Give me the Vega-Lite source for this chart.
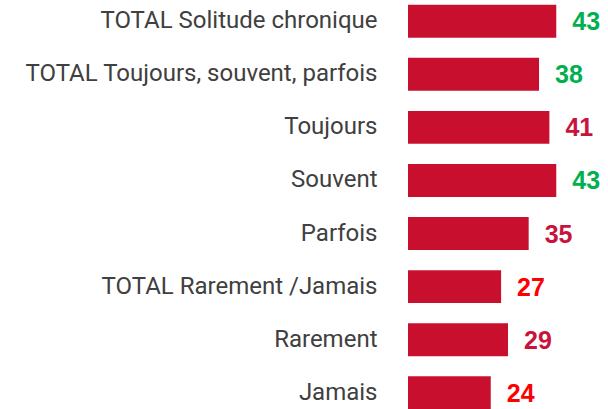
{
  "$schema": "https://vega.github.io/schema/vega-lite/v6.json",
  "width": 200,
  "height": 414,
  "autosize": "none",
  "padding": {"left": 408, "top": 0, "right": 0, "bottom": 0},
  "background": "white",
  "config": {"view": {"stroke": null}},
  "data": {
    "values": [
      {"label": "TOTAL Solitude chronique", "value": 43, "tcol": "green"},
      {"label": "TOTAL Toujours, souvent, parfois", "value": 38, "tcol": "green"},
      {"label": "Toujours", "value": 41, "tcol": "crimson"},
      {"label": "Souvent", "value": 43, "tcol": "green"},
      {"label": "Parfois", "value": 35, "tcol": "crimson"},
      {"label": "TOTAL Rarement /Jamais", "value": 27, "tcol": "red"},
      {"label": "Rarement", "value": 29, "tcol": "crimson"},
      {"label": "Jamais", "value": 24, "tcol": "red"}
    ]
  },
  "encoding": {
    "y": {
      "field": "label",
      "type": "nominal",
      "sort": null,
      "scale": {"paddingInner": 0.38, "paddingOuter": 0.09},
      "axis": {
        "title": null,
        "domain": false,
        "ticks": false,
        "labelPadding": 31,
        "labelFontSize": 24,
        "labelFont": "Roboto",
        "labelColor": "#404040",
        "labelLimit": 500
      }
    },
    "x": {
      "field": "value",
      "type": "quantitative",
      "scale": {"domain": [0, 58]},
      "axis": null
    }
  },
  "layer": [
    {"mark": {"type": "bar", "color": "#C8102E"}},
    {
      "mark": {"type": "text", "align": "left", "baseline": "middle", "dx": 16, "dy": 1, "font": "Liberation Sans", "fontWeight": "bold", "fontSize": 25},
      "encoding": {
        "text": {"field": "value", "type": "quantitative"},
        "color": {
          "field": "tcol",
          "type": "nominal",
          "scale": {"domain": ["green", "crimson", "red"], "range": ["#00B050", "#C8143C", "#FF0000"]},
          "legend": null
        }
      }
    }
  ]
}
